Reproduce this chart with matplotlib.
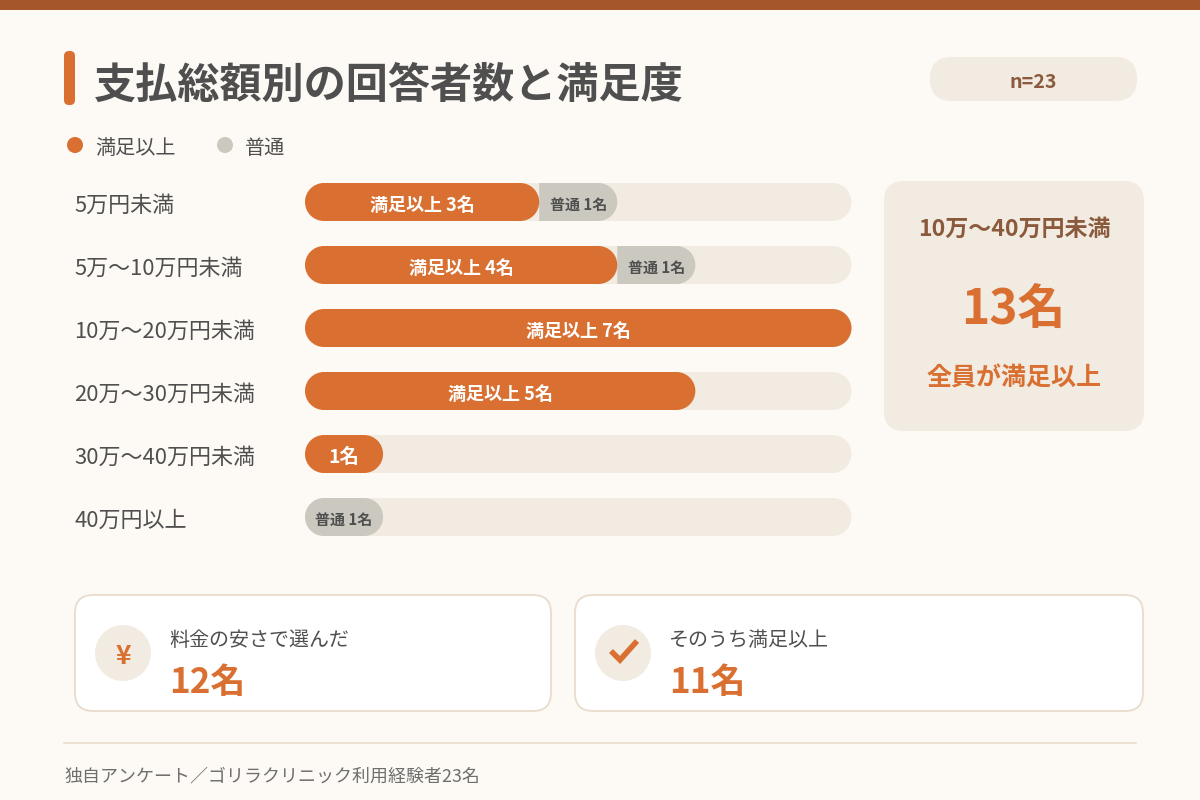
import matplotlib; matplotlib.use('Agg')
import matplotlib.pyplot as plt
from matplotlib.patches import FancyBboxPatch, PathPatch, Circle, Rectangle
from matplotlib.path import Path

plt.rcParams['font.family'] = ['Noto Sans CJK JP', 'DejaVu Sans']

# ===== Data =====
categories = ["5万円未満", "5万〜10万円未満", "10万〜20万円未満", "20万〜30万円未満", "30万〜40万円未満", "40万円以上"]
satisfied = [3, 4, 7, 5, 1, 0]
neutral = [1, 1, 0, 0, 0, 1]
max_count = 7
sat_labels = ["満足以上 3名", "満足以上 4名", "満足以上 7名", "満足以上 5名", "1名", ""]
neu_labels = ["普通 1名", "普通 1名", "", "", "", "普通 1名"]
legend_names = ["満足以上", "普通"]

# ===== Colours =====
BG = "#FDF9F5"; TOP = "#A6562B"; ORANGE = "#D96F30"; TRACK = "#F2EBE2"; GRAY = "#CBC8C0"
TEXT = "#4F4F4F"; BROWN = "#8B5A3C"; EDGE = "#E8DCCB"; SUB = "#6F6F6F"

fig = plt.figure(figsize=(12, 8), dpi=100, facecolor=BG)

# full figure layer in pixels
ax = fig.add_axes([0, 0, 1, 1], zorder=1)
ax.set_xlim(0, 1200); ax.set_ylim(800, 0); ax.axis('off')

def rbox(x0, y0, x1, y1, r, **kw):
    ax.add_patch(FancyBboxPatch((x0, y0), x1-x0, y1-y0, boxstyle=f"round,pad=0,rounding_size={r}", **kw))

ax.add_patch(Rectangle((0, 0), 1200, 10, fc=TOP, ec='none'))

# header
rbox(64, 51, 75, 105, 5, fc=ORANGE, ec='none')
ax.text(94, 86, "支払総額別の回答者数と満足度", fontsize=30.35, fontweight='bold', color=TEXT, va='center', ha='left')
rbox(930, 57, 1137, 101, 22, fc=TRACK, ec='none')
ax.text(1033, 83, "n=23", fontsize=14.2, fontweight='bold', color=BROWN, va='center', ha='center')

# legend
for x, name, col in zip([75, 225], legend_names, [ORANGE, GRAY]):
    ax.add_patch(Circle((x, 145), 8, fc=col, ec='none'))
    ax.text(x+20, 148, name, fontsize=14.5, color=TEXT, va='center', ha='left')

# ===== Bars =====
ax_bar = fig.add_axes([305/1200, 1-(536+12.5)/800, 546.5/1200, 378/800], zorder=2)
ax_bar.set_xlim(0, max_count); ax_bar.set_ylim(len(categories)-0.5, -0.5)
ax_bar.axis('off'); ax_bar.patch.set_alpha(0)
RX, H = 19/78, 38/63  # corner radius in data units, bar height in rows
RY = H/2
K = 0.5523

def seg(start, end, row, color, left=True, right=True):
    t, b = row-RY, row+RY
    v, c = [], []
    if left:
        v += [(start+RX, t)]; c += [Path.MOVETO]
    else:
        v += [(start, t)]; c += [Path.MOVETO]
    if right:
        v += [(end-RX, t), (end-RX+K*RX, t), (end, row-K*RY), (end, row),
              (end, row+K*RY), (end-RX+K*RX, b), (end-RX, b)]
        c += [Path.LINETO] + [Path.CURVE4]*6
    else:
        v += [(end, t), (end, b)]; c += [Path.LINETO]*2
    if left:
        v += [(start+RX, b), (start+RX-K*RX, b), (start, row+K*RY), (start, row),
              (start, row-K*RY), (start+RX-K*RX, t), (start+RX, t)]
        c += [Path.LINETO] + [Path.CURVE4]*6
    else:
        v += [(start, b), (start, t)]; c += [Path.LINETO]*2
    ax_bar.add_patch(PathPatch(Path(v, c), fc=color, ec='none'))

for i, cat in enumerate(categories):
    ax.text(74.5, 206+i*63, cat, fontsize=15.85, color=TEXT, va='center', ha='left')
    seg(0, max_count, i, TRACK)
    s, n = satisfied[i], neutral[i]
    if n:
        seg(s, s+n, i, GRAY, left=(s == 0))
        ax_bar.text(s+n/2, i+0.04, neu_labels[i], fontsize=10.8, fontweight='bold', color=TEXT, ha='center', va='center')
    if s:
        seg(0, s, i, ORANGE)
        fs = 14 if s == 1 else 13
        ax_bar.text(s/2, i+0.05, sat_labels[i], fontsize=fs, fontweight='bold', color='white', ha='center', va='center')

# ===== Callout =====
rbox(884, 181, 1144, 431, 20, fc=TRACK, ec='none')
ax.text(1014, 229, "10万〜40万円未満", fontsize=16.6, fontweight='bold', color=BROWN, ha='center', va='center')
ax.text(1013, 310, "13名", fontsize=34.5, fontweight='bold', color=ORANGE, ha='center', va='center')
ax.text(1014, 379, "全員が満足以上", fontsize=18, fontweight='bold', color=ORANGE, ha='center', va='center')

# ===== Bottom cards =====
for x0, x1, label, val in [(75, 551, "料金の安さで選んだ", "12名"), (575, 1143, "そのうち満足以上", "11名")]:
    rbox(x0, 595, x1, 711, 18, fc='white', ec=EDGE, lw=1.3)
    ax.add_patch(Circle((x0+48, 653), 28, fc=TRACK, ec='none'))
    ax.text(x0+94, 640, label, fontsize=14.4, color=TEXT, ha='left', va='center')
    ax.text(x0+94, 682, val, fontsize=25.2, fontweight='bold', color=ORANGE, ha='left', va='center')
ax.text(123, 657, "¥", fontsize=19, fontweight='bold', color=ORANGE, ha='center', va='center')
ax.plot([611, 620, 637], [651, 660, 641], color=ORANGE, lw=4, solid_capstyle='butt', solid_joinstyle='miter')

# ===== Footer =====
ax.plot([64, 1136], [743, 743], color=EDGE, lw=1.1)
ax.text(64, 776, "独自アンケート／ゴリラクリニック利用経験者23名", fontsize=12.95, color=SUB, ha='left', va='center')

fig.savefig("out.png", dpi=100, facecolor=BG)
